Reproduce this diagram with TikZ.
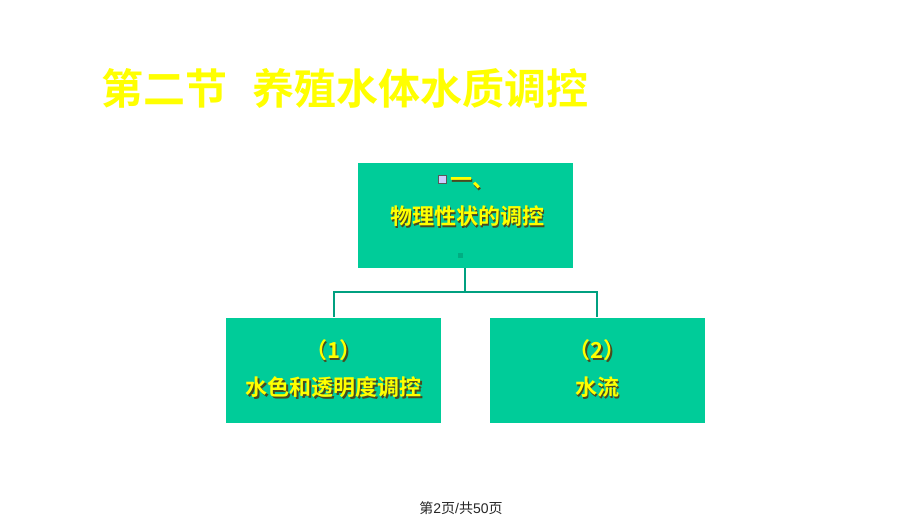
\documentclass[tikz,border=0pt]{standalone}
\usepackage{fontspec}
\newfontfamily\cjk{Noto Sans CJK SC}
\newfontfamily\cjkb{Noto Sans CJK SC Bold}
\newfontfamily\foot{Liberation Sans}
\definecolor{boxgreen}{HTML}{00CC99}
\definecolor{linegreen}{HTML}{00A080}
\definecolor{titleyellow}{HTML}{FFFF00}
\definecolor{txtshadow}{HTML}{4A4A20}
\definecolor{lav}{HTML}{CCCCFF}
\newcommand{\shtext}[1]{\rlap{\hspace{1.6pt}\raisebox{-1.6pt}{\color{txtshadow}#1}}{\color{titleyellow}#1}}
\tikzset{
  greenbox/.style={fill=boxgreen, draw=white, line width=0.8pt, minimum width=216pt, minimum height=106pt, inner sep=0pt},
  boxtext/.style={inner sep=0pt, font=\cjkb\fontsize{22}{24}\selectfont},
  conn/.style={draw=linegreen, line width=2pt},
}
\begin{document}
\begin{tikzpicture}[x=1pt,y=-1pt]
\useasboundingbox[fill=white] (0,0) rectangle (920,518);
\node[inner sep=0pt, anchor=west, text=titleyellow, font=\cjkb\fontsize{42}{44}\selectfont] (title) at (101,88) {第二节\hspace{0.6em}养殖水体水质调控};
\node[greenbox] (top) at (465,215) {};
\node[greenbox] (left) at (333.5,370) {};
\node[greenbox] (right) at (597,370) {};
\node[fill=lav, draw=gray!70!black, line width=0.6pt, minimum size=8.5pt, inner sep=0pt] (sq) at (442.5,179.5) {};
\node[boxtext, anchor=west] (t1) at (450,184) {\shtext{一、}};
\node[boxtext] (t2) at (467,217) {\shtext{物理性状的调控}};
\node[fill=boxgreen!85!black, minimum size=5pt, inner sep=0pt] (dot) at (460,256) {};
\node[boxtext] (l1) at (333.5,351) {\shtext{（1）}};
\node[boxtext] (l2) at (333.5,388) {\shtext{水色和透明度调控}};
\node[boxtext] (r1) at (597,351) {\shtext{（2）}};
\node[boxtext] (r2) at (597,388) {\shtext{水流}};
\coordinate (j) at (465,292);
\draw[conn] (top.south) -- (j);
\draw[conn] (j) -| (left.north);
\draw[conn] (j) -| (right.north);
\node[inner sep=0pt, font=\cjk\fontsize{14}{16}\selectfont, text=black!85] (footer) at (461,508) {第{\foot 2}页{\foot /}共{\foot 50}页};
\end{tikzpicture}
\end{document}
